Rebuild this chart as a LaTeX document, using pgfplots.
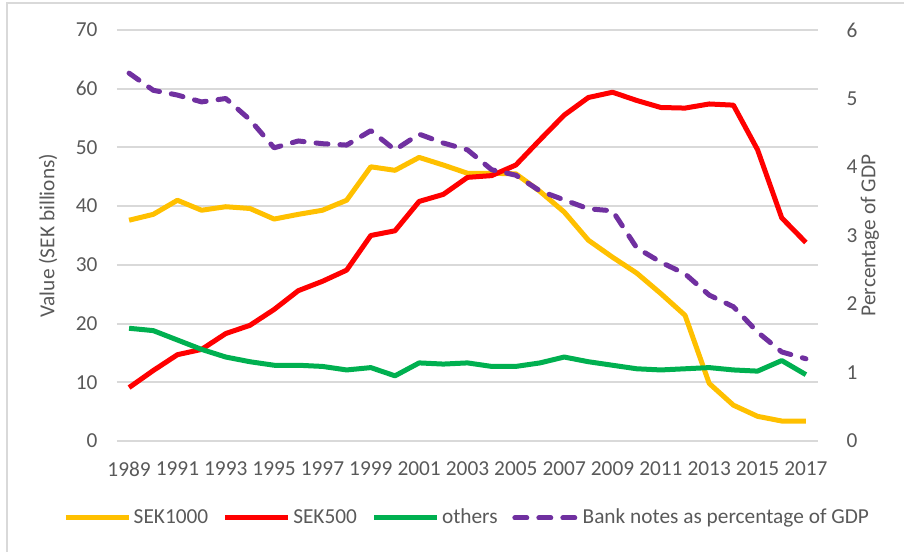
\documentclass[border=0pt]{standalone}
\usepackage{pgfplots}
\pgfplotsset{compat=1.18}
\usepackage{fontspec}
\setmainfont{Carlito}
\definecolor{txt}{RGB}{89,89,89}
\definecolor{grid}{RGB}{217,217,217}
\definecolor{cy}{RGB}{255,192,0}
\definecolor{cr}{RGB}{255,0,0}
\definecolor{cg}{RGB}{0,176,80}
\definecolor{cp}{RGB}{112,48,160}
\pgfplotstableread{
x yr k1000 k500 oth gdp
0 1989 37.6 9.1 19.2 5.37
1 1990 38.6 12.0 18.8 5.12
2 1991 41.0 14.7 17.2 5.05
3 1992 39.3 15.6 15.6 4.95
4 1993 39.9 18.3 14.3 5.00
5 1994 39.6 19.7 13.5 4.69
6 1995 37.8 22.4 12.9 4.28
7 1996 38.6 25.6 12.9 4.38
8 1997 39.3 27.2 12.7 4.34
9 1998 41.0 29.1 12.1 4.32
10 1999 46.7 35.0 12.5 4.53
11 2000 46.1 35.8 11.1 4.25
12 2001 48.3 40.8 13.3 4.48
13 2002 47.0 42.0 13.1 4.35
14 2003 45.6 44.9 13.3 4.25
15 2004 45.6 45.2 12.7 3.96
16 2005 45.5 47.0 12.7 3.88
17 2006 42.5 51.3 13.3 3.65
18 2007 39.0 55.5 14.3 3.52
19 2008 34.2 58.5 13.5 3.39
20 2009 31.3 59.4 12.9 3.36
21 2010 28.6 58.0 12.3 2.82
22 2011 25.1 56.8 12.1 2.61
23 2012 21.4 56.7 12.3 2.44
24 2013 9.8 57.4 12.5 2.13
25 2014 6.1 57.2 12.1 1.96
26 2015 4.2 49.6 11.9 1.59
27 2016 3.4 38.0 13.7 1.30
28 2017 3.4 33.8 11.3 1.20
}\data
\begin{document}
\fontsize{16}{19}\selectfont
\begin{tikzpicture}
\pgfplotsset{
  every axis/.append style={
    scale only axis, width=525.75pt, height=308.25pt,
    xmin=-0.5, xmax=28.5,
    font=\fontsize{16}{19}\selectfont,
    /pgf/number format/assume math mode=true,
    tick label style={text=txt},
    label style={text=txt},
  },
}
\begin{axis}[name=main,
  ymin=0, ymax=70, ytick={0,10,...,70},
  axis x line=bottom, axis y line=left,
  axis line style={-},
  y axis line style={draw=none},
  x axis line style={draw=grid, line width=1.5pt},
  ytick style={draw=none},
  ymajorgrids, major grid style={draw=grid, line width=1.5pt},
  xtick={0,2,...,28},
  xticklabels={1989,1991,1993,1995,1997,1999,2001,2003,2005,2007,2009,2011,2013,2015,2017},
  xtick style={draw=none},
  extra x ticks={-0.5,0.5,...,28.5},
  extra x tick labels={},
  extra x tick style={grid=none, tick align=outside, major tick length=4pt, tick style={draw=grid, line width=1.2pt}},
  xticklabel style={yshift=-8pt},
  yticklabel style={xshift=-7pt},
  ylabel={Value (SEK billions)},
  ylabel style={at={(axis description cs:-0.0984,0.5)}, anchor=center, rotate=0},
  line join=round,
]
\addplot[cy, line width=3.75pt] table[x=x,y=k1000]{\data};
\addplot[cr, line width=3.75pt] table[x=x,y=k500]{\data};
\addplot[cg, line width=3.75pt] table[x=x,y=oth]{\data};
\end{axis}
\begin{axis}[
  ymin=0, ymax=6, ytick={0,1,...,6},
  axis x line=none, axis y line*=right,
  y axis line style={draw=none},
  ytick style={draw=none},
  yticklabel style={xshift=16pt},
  ylabel={Percentage of GDP},
  ylabel style={at={(axis description cs:1.0742,0.5)}, anchor=center, rotate=0},
  legend columns=4,
  legend style={draw=none, fill=none, at={(axis description cs:0.5,-0.1873)}, anchor=center,
    font=\fontsize{16}{19}\selectfont, text=txt,
    /tikz/every even column/.append style={column sep=9pt}},
  legend image code/.code={\draw[#1] (0pt,0pt) -- (47pt,0pt);},
  line join=round,
]
\addlegendimage{cy, line width=3.75pt}
\addlegendentry{SEK1000}
\addlegendimage{cr, line width=3.75pt}
\addlegendentry{SEK500}
\addlegendimage{cg, line width=3.75pt}
\addlegendentry{others}
\addplot[cp, line width=3.75pt, line cap=round, dash pattern=on 9pt off 9pt] table[x=x,y=gdp]{\data};
\addlegendentry{Bank notes as percentage of GDP}
\end{axis}
\draw[grid, line width=1.5pt] ([xshift=-82.5pt,yshift=-90pt]main.south west) -- ([xshift=-82.5pt,yshift=20.25pt]main.north west) -- ([xshift=70pt,yshift=20.25pt]main.north east);
\pgfresetboundingbox
\path[use as bounding box] ([xshift=-87.75pt,yshift=-83.25pt]main.south west) rectangle ([xshift=64.5pt,yshift=22.5pt]main.north east);
\end{tikzpicture}
\end{document}
